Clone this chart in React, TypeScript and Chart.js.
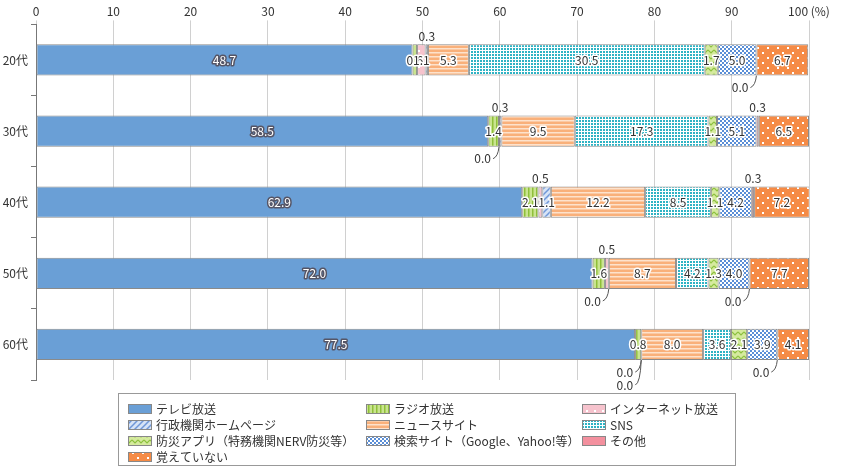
import { useEffect, useRef } from 'react';
import { Chart, registerables } from 'chart.js';

Chart.register(...registerables);

const categories = ['20代', '30代', '40代', '50代', '60代'];
const seriesNames = [
  'テレビ放送', 'ラジオ放送', 'インターネット放送', '行政機関ホームページ', 'ニュースサイト',
  'SNS', '防災アプリ（特務機関NERV防災等）', '検索サイト（Google、Yahoo!等）', 'その他', '覚えていない',
];
const tv = [48.7, 58.5, 62.9, 72.0, 77.5];
const radio = [0.6, 1.4, 2.1, 1.6, 0.8];
const netcast = [1.1, 0.0, 0.5, 0.5, 0.0];
const govHp = [0.3, 0.3, 1.1, 0.0, 0.0];
const news = [5.3, 9.5, 12.2, 8.7, 8.0];
const sns = [30.5, 17.3, 8.5, 4.2, 3.6];
const bousai = [1.7, 1.1, 1.1, 1.3, 2.1];
const search = [5.0, 5.1, 4.2, 4.0, 3.9];
const other = [0.0, 0.3, 0.3, 0.0, 0.0];
const forgot = [6.7, 6.5, 7.2, 7.7, 4.1];
const seriesValues = [tv, radio, netcast, govHp, news, sns, bousai, search, other, forgot];

function pat(bg: string, size: number, draw: (c: CanvasRenderingContext2D) => void): CanvasPattern | string {
  const cv = document.createElement('canvas');
  cv.width = size; cv.height = size;
  const c = cv.getContext('2d');
  if (!c) return bg;
  c.fillStyle = bg; c.fillRect(0, 0, size, size);
  draw(c);
  return c.createPattern(cv, 'repeat') || bg;
}

function makeFills() {
  return [
    '#6a9fd6',
    pat('#c9e48f', 4, c => { c.fillStyle = '#8fbf3a'; c.fillRect(0, 0, 1.5, 4); }),
    pat('#f6c3cd', 8, c => { c.fillStyle = '#fff'; c.fillRect(2, 2, 2, 2); }),
    pat('#d6e3f6', 6, c => { c.strokeStyle = '#6f97d8'; c.lineWidth = 1.5; c.beginPath(); c.moveTo(0, 6); c.lineTo(6, 0); c.moveTo(-1, 1); c.lineTo(1, -1); c.moveTo(5, 7); c.lineTo(7, 5); c.stroke(); }),
    pat('#f9b07a', 4, c => { c.fillStyle = '#fde2cc'; c.fillRect(0, 0, 4, 1.5); }),
    pat('#ffffff', 3, c => { c.fillStyle = '#2fb3c4'; c.fillRect(0, 0, 2, 2); }),
    pat('#d5ea9e', 6, c => { c.strokeStyle = '#8cc03e'; c.lineWidth = 1.2; c.beginPath(); c.moveTo(0, 2); c.lineTo(3, 5); c.lineTo(6, 2); c.stroke(); }),
    pat('#ffffff', 4, c => { c.fillStyle = '#5a8ed6'; c.fillRect(0, 0, 2, 2); c.fillRect(2, 2, 2, 2); }),
    '#f3909e',
    pat('#f58b46', 10, c => { c.fillStyle = '#fff'; c.fillRect(2, 2, 2, 2); c.fillRect(7, 7, 2, 2); }),
  ];
}

const FONT = "'Noto Sans CJK JP', 'Noto Sans', sans-serif";

export default function App() {
  const ref = useRef<HTMLCanvasElement | null>(null);

  useEffect(() => {
    document.body.style.margin = '0';
    if (!ref.current) return;
    const fills = makeFills();

    const labelPlugin = {
      id: 'labels',
      afterDatasetsDraw(chart: any) {
        const ctx = chart.ctx as CanvasRenderingContext2D;
        ctx.save();
        ctx.font = `12px ${FONT}`;
        ctx.textBaseline = 'middle';
        ctx.lineJoin = 'round';
        categories.forEach((_, i) => {
          let lastZeroX = -100;
          let off = 0;
          seriesValues.forEach((vals, d) => {
            const v = vals[i];
            const el = chart.getDatasetMeta(d).data[i] as any;
            const txt = v.toFixed(1);
            const left = Math.min(el.x, el.base), right = Math.max(el.x, el.base);
            const top = el.y - el.height / 2, bottom = el.y + el.height / 2;
            const cx = (left + right) / 2;
            if (v >= 0.6) {
              ctx.textAlign = 'center';
              ctx.lineWidth = 3;
              ctx.strokeStyle = d === 0 ? '#556' : '#fff';
              ctx.fillStyle = d === 0 ? '#fff' : '#333';
              ctx.strokeText(txt, cx, el.y);
              ctx.fillText(txt, cx, el.y);
            } else if (v > 0) {
              ctx.textAlign = 'center';
              ctx.fillStyle = '#333';
              ctx.fillText(txt, cx, top - 8);
            } else {
              off = Math.abs(cx - lastZeroX) < 3 ? off + 13 : 0;
              lastZeroX = cx;
              ctx.strokeStyle = '#555';
              ctx.lineWidth = 1;
              ctx.beginPath();
              ctx.moveTo(cx, bottom);
              ctx.quadraticCurveTo(cx - 1, bottom + 10 + off, cx - 6, bottom + 12 + off);
              ctx.stroke();
              ctx.textAlign = 'right';
              ctx.fillStyle = '#333';
              ctx.fillText(txt, cx - 8, bottom + 12 + off);
            }
          });
        });
        ctx.restore();
      },
      afterDraw(chart: any) {
        const ctx = chart.ctx as CanvasRenderingContext2D;
        ctx.save();
        ctx.strokeStyle = '#999';
        ctx.lineWidth = 1;
        ctx.strokeRect(118.5, 393.5, 617, 72);
        const cols = [128, 366, 582];
        const order = [[0, 1, 2], [3, 4, 5], [6, 7, 8], [9]];
        ctx.font = `12px ${FONT}`;
        ctx.textBaseline = 'middle';
        ctx.textAlign = 'left';
        order.forEach((row, r) => {
          row.forEach((d, c) => {
            const x = cols[c], y = 409 + r * 16;
            ctx.fillStyle = fills[d] as any;
            ctx.fillRect(x, y - 5, 24, 10);
            ctx.strokeStyle = '#888';
            ctx.strokeRect(x + 0.5, y - 4.5, 23, 9);
            ctx.fillStyle = '#333';
            ctx.fillText(seriesNames[d], x + 28, y);
          });
        });
        ctx.restore();
      },
    };

    const chart = new Chart(ref.current, {
      type: 'bar',
      data: {
        labels: categories,
        datasets: seriesValues.map((vals, d) => ({
          label: seriesNames[d],
          data: vals,
          backgroundColor: fills[d] as any,
          borderColor: '#8a8a8a',
          borderWidth: 1,
          borderSkipped: false,
          barPercentage: 0.44,
          categoryPercentage: 1,
        })),
      },
      options: {
        indexAxis: 'y',
        animation: false,
        responsive: true,
        maintainAspectRatio: false,
        layout: { padding: { left: 0, right: 33, top: 2, bottom: 91 } },
        scales: {
          x: {
            position: 'top',
            stacked: true,
            min: 0,
            max: 100,
            ticks: {
              stepSize: 10,
              color: '#333',
              font: { family: FONT, size: 12 },
              padding: 2,
              callback: (v: any) => (v === 100 ? '100 (%)' : String(v)),
            },
            grid: { color: '#d0d0d0', tickLength: 4, drawTicks: true },
            border: { display: false },
          },
          y: {
            stacked: true,
            afterFit: (s: any) => { s.width = 36; },
            ticks: { color: '#333', font: { family: FONT, size: 12 }, padding: 3 },
            grid: { drawOnChartArea: false, tickLength: 5, color: '#777', offset: true },
            border: { color: '#777' },
          },
        },
        plugins: { legend: { display: false }, tooltip: { enabled: false } },
      },
      plugins: [labelPlugin],
    });

    return () => chart.destroy();
  }, []);

  return (
    <div style={{ position: 'relative', width: 842, height: 471 }}>
      <canvas ref={ref} />
    </div>
  );
}
